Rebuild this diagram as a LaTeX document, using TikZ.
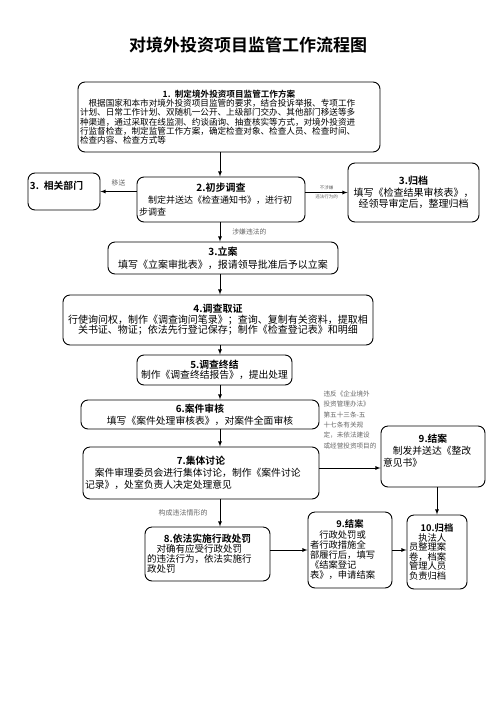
\documentclass[tikz,border=0pt]{standalone}
\usepackage{fontspec}
\setmainfont{Noto Sans CJK SC}[BoldFont={Noto Sans CJK SC Bold}]
\XeTeXlinebreaklocale "zh"
\setlength{\parindent}{0pt}
\usetikzlibrary{positioning,arrows}
\tikzset{
	fl_base/.style={font=\fontsize{9.8}{12}\selectfont, node distance=10pt, fill=white},
	fl_block/.style={fl_base, draw, rectangle, rounded corners=7pt, on grid, align=center, line width=0.9pt, inner sep=2pt},
	fl_head/.style={font=\bfseries\fontsize{17}{20}\selectfont, on grid},
	fl_label/.style={align=center, font=\fontsize{6.8}{8}\selectfont, text=black!60, inner sep=2pt},
	fl_tiny/.style={fl_label, font=\fontsize{4.5}{5}\selectfont},
	fl_line/.style={draw=black, line width=0.8pt, -latex}
}
\begin{document}
\begin{tikzpicture}
	\useasboundingbox (0,0) rectangle (496pt,-702pt);
	\node [fl_head] (title) at (248pt,-45pt) {对境外投资项目监管工作流程图};

	\node [fl_block, align=left, text width=298pt, minimum height=70pt, font=\fontsize{8.6}{9.3}\selectfont, below = 72pt of title, xshift=-19pt] (plan) {{\centering\bfseries 1. 制定境外投资项目监管工作方案\par}\hspace*{1em}根据国家和本市对境外投资项目监管的要求，结合投诉举报、专项工作\\计划、日常工作计划、双随机一公开、上级部门交办、其他部门移送等多\\种渠道，通过采取在线监测、约谈函询、抽查核实等方式，对境外投资进\\行监督检查，制定监管工作方案，确定检查对象、检查人员、检查时间、\\检查内容、检查方式等};
	\node [fl_block, align=left, text width=164pt, minimum height=45pt, font=\fontsize{9}{12}\selectfont, below = 82.5pt of plan, xshift=-8pt] (survey) {{\centering\bfseries\fontsize{10}{12}\selectfont 2.初步调查\par}\hspace*{1em}制定并送达《检查通知书》，进行初\\步调查};
	\node [fl_block, align=left, text width=68pt, minimum height=37pt, left = 157pt of survey, yshift=8pt] (dept) {\bfseries 3. 相关部门\\\mbox{}};
	\node [fl_block, text width=127pt, minimum height=59pt, font=\fontsize{10}{11.5}\selectfont, right = 192.5pt of survey, yshift=7pt] (archive) {{\bfseries 3.归档}\\填写《检查结果审核表》，\\经领导审定后，整理归档};

	\node [fl_block, text width=226pt, minimum height=32pt, font=\fontsize{10}{13}\selectfont, below = 58.5pt of survey, xshift=2pt] (filing) {{\bfseries 3.立案}\\填写《立案审批表》，报请领导批准后予以立案};
	\node [fl_block, text width=306pt, minimum height=50pt, font=\fontsize{10}{10.5}\selectfont, below = 62pt of filing, xshift=-5pt] (evidence) {{\bfseries 4.调查取证}\\行使询问权，制作《调查询问笔录》；查询、复制有关资料，提取相\\关书证、物证；依法先行登记保存；制作《检查登记表》和明细};
	\node [fl_block, text width=151pt, minimum height=30pt, font=\fontsize{9.8}{10.5}\selectfont, below = 50pt of evidence, xshift=-3.5pt] (conclude) {{\bfseries 5.调查终结}\\制作《调查终结报告》，提出处理};
	\node [fl_block, text width=234pt, minimum height=29pt, below = 44.5pt of conclude, xshift=-14.5pt] (review) {{\bfseries 6.案件审核}\\填写《案件处理审核表》，对案件全面审核};
	\node [fl_block, align=left, text width=232pt, minimum height=52pt, below = 58.5pt of review, xshift=1pt] (discuss) {{\centering\bfseries 7.集体讨论\par}\hspace*{1em}案件审理委员会进行集体讨论，制作《案件讨论\\记录》，处室负责人决定处理意见};
	\node [fl_block, align=left, text width=100pt, minimum height=61pt, right = 232pt of discuss, yshift=16.5pt] (closeA) {{\centering\bfseries 9.结案\par}\hspace*{1em}制发并送达《整改\\意见书》\\\mbox{}};

	\node [fl_block, align=left, text width=121pt, minimum height=54pt, font=\fontsize{9.5}{10}\selectfont, below = 81pt of discuss, xshift=6.5pt] (penalty) {{\centering\bfseries\fontsize{9.8}{11}\selectfont 8.依法实施行政处罚\par}\hspace*{1em}对确有应受行政处罚\\的违法行为，依法实施行\\政处罚};
	\node [fl_block, align=left, text width=80pt, minimum height=76pt, font=\fontsize{9.3}{10.2}\selectfont, right = 142.5pt of penalty, yshift=4pt] (closeB) {{\centering\bfseries 9.结案\par}\hspace*{1em}行政处罚或\\者行政措施全\\部履行后，填写\\《结案登记\\表》，申请结案};
	\node [fl_block, align=left, text width=56pt, minimum height=74pt, font=\fontsize{9.3}{9.6}\selectfont, right = 87pt of closeB, yshift=-2pt] (archiveB) {{\centering\bfseries 10.归档\par}\hspace*{1em}执法人\\员整理案\\卷，档案\\管理人员\\负责归档};

	% connectors
	\coordinate (spine) at ([xshift=-9pt]plan.center);
	\path [fl_line] (spine |- plan.south) -- (spine |- survey.north);
	\path [fl_line] (survey.west |- dept.east) -- node [fl_label, above=3pt] {移送} (dept.east);
	\path [fl_line] (survey.east |- archive.west) -- node [fl_tiny, above] {不涉嫌} node [fl_tiny, below] {违法行为的} (archive.west);
	\path [fl_line] (spine |- survey.south) -- node [fl_label, right=10pt] {涉嫌违法的} (spine |- filing.north);
	\path [fl_line] (spine |- filing.south) -- (spine |- evidence.north);
	\path [fl_line] (spine |- evidence.south) -- (spine |- conclude.north);
	\path [fl_line] (spine |- conclude.south) -- (spine |- review.north);
	\path [fl_line] (spine |- review.south) -- (spine |- discuss.north);
	\path [fl_line] ([yshift=5pt]discuss.east) -- node [fl_label, align=left, font=\fontsize{6.6}{10.3}\selectfont, above=17pt] {违反《企业境外\\投资管理办法》\\第五十三条-五\\十七条有关规\\定，未依法建设\\或经营投资项目的} ([yshift=5pt]discuss.east -| closeA.west);
	\path [fl_line] (spine |- discuss.south) -- node [fl_label, font=\fontsize{7}{8}\selectfont, left=10pt] {构成违法情形的} (spine |- penalty.north);
	\path [fl_line] (archiveB.north |- closeA.south) -- (archiveB.north);
	\path [fl_line] (penalty.east |- closeB.west) -- (closeB.west);
	\path [fl_line] (closeB.east) -- (closeB.east -| archiveB.west);
\end{tikzpicture}
\end{document}
